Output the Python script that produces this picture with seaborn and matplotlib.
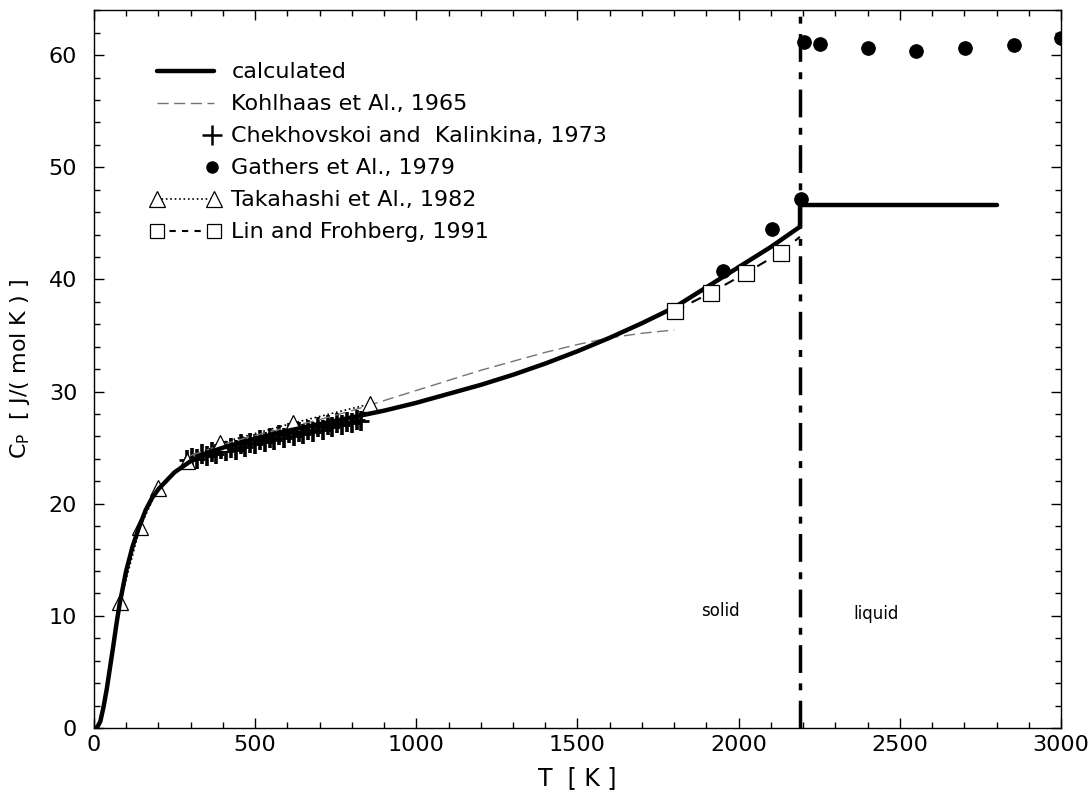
import numpy as np
import pandas as pd
import matplotlib
matplotlib.use("Agg")
import matplotlib.pyplot as plt
import seaborn as sns
from matplotlib.lines import Line2D
from matplotlib.legend_handler import HandlerLine2D
from matplotlib.ticker import MultipleLocator

# ---------------- data ----------------
calc_T = [0, 10, 20, 30, 40, 50, 60, 70, 80, 100, 120, 140, 160, 180, 200, 250, 300, 350, 400,
          500, 600, 700, 800, 900, 1000, 1100, 1200, 1300, 1400, 1500, 1600, 1700, 1800,
          1900, 2000, 2100, 2190]
calc_Cp = [0, 0.05, 0.6, 1.9, 3.5, 5.4, 7.3, 9.3, 11.1, 14.0, 16.2, 17.9, 19.4, 20.5, 21.3, 22.8,
           23.8, 24.5, 25.0, 25.8, 26.5, 27.1, 27.7, 28.3, 29.0, 29.8, 30.6, 31.5, 32.5, 33.6,
           34.8, 36.1, 37.5, 39.3, 41.1, 42.9, 44.7]
liq_T = [2190, 2190, 2800]
liq_Cp = [44.7, 46.6, 46.6]

kohl_T = [300, 400, 500, 600, 700, 800, 900, 1000, 1100, 1200, 1300, 1400, 1500, 1600, 1700, 1800]
kohl_Cp = [24.3, 25.3, 26.1, 26.8, 27.5, 28.3, 29.2, 30.1, 31.0, 31.9, 32.7, 33.5, 34.2, 34.8, 35.2, 35.5]

chek_T = [290, 305, 320, 335, 350, 365, 380, 395, 410, 425, 440, 455, 470, 485, 500, 515, 530,
          545, 560, 575, 590, 605, 620, 635, 650, 665, 680, 695, 710, 725, 740, 755, 770, 785,
          800, 815, 830]
chek_Cp = [23.9, 24.1, 24.0, 24.4, 24.3, 24.6, 24.4, 24.9, 24.7, 25.0, 24.8, 25.3, 25.1, 25.4,
           25.3, 25.7, 25.5, 25.9, 25.7, 26.1, 25.9, 26.3, 26.0, 26.4, 26.2, 26.6, 26.4, 26.8,
           26.6, 27.0, 26.8, 27.2, 27.0, 27.3, 27.2, 27.5, 27.4]

gath_T = [1953, 2102, 2193, 2202, 2252, 2400, 2550, 2702, 2854, 3000]
gath_Cp = [40.8, 44.5, 47.2, 61.2, 61.0, 60.6, 60.4, 60.6, 60.9, 61.5]

taka_T = [81, 143, 199, 289, 391, 618, 857]
taka_Cp = [11.2, 17.9, 21.4, 23.8, 25.4, 27.2, 28.9]

lin_T = [1802, 1913, 2024, 2130]
lin_Cp = [37.2, 38.8, 40.6, 42.4]
lin_ext_T = [2130, 2190]
lin_ext_Cp = [42.4, 43.8]

T_melt = 2190

labels = ["calculated", "Kohlhaas et Al., 1965", "Chekhovskoi and  Kalinkina, 1973",
          "Gathers et Al., 1979", "Takahashi et Al., 1982", "Lin and Frohberg, 1991"]

# ---------------- plot ----------------
sns.set_theme(style="ticks")
plt.rcParams['font.family'] = ['DejaVu Sans']
plt.rcParams['mathtext.fontset'] = 'dejavusans'
for k in ['text.color', 'axes.labelcolor', 'xtick.color', 'ytick.color', 'axes.edgecolor']:
    plt.rcParams[k] = 'black'

fig = plt.figure(figsize=(10.92, 7.96), dpi=100)
ax = fig.add_axes([0.086, 0.0854, 0.8856, 0.9016])

sns.lineplot(x=kohl_T, y=kohl_Cp, ax=ax, color='0.45', lw=1.0, sort=False, estimator=None,
             linestyle=(0, (8, 4)))
sns.lineplot(x=taka_T, y=taka_Cp, ax=ax, color='black', lw=1.2, sort=False, estimator=None,
             linestyle=':', marker='^', markersize=11, markerfacecolor='white',
             markeredgecolor='black', markeredgewidth=0.9)
sns.scatterplot(x=chek_T, y=chek_Cp, ax=ax, marker='|', s=220, color='black', linewidth=2.6)
sns.scatterplot(x=chek_T, y=chek_Cp, ax=ax, marker='_', s=120, color='black', linewidth=2.0)
sns.lineplot(x=calc_T, y=calc_Cp, ax=ax, color='black', lw=3.2, sort=False, estimator=None)
sns.lineplot(x=liq_T, y=liq_Cp, ax=ax, color='black', lw=3.2, sort=False, estimator=None)
sns.lineplot(x=lin_ext_T, y=lin_ext_Cp, ax=ax, color='black', lw=1.5, sort=False, estimator=None,
             linestyle=(0, (5, 4)))
sns.lineplot(x=lin_T, y=lin_Cp, ax=ax, color='black', lw=1.5, sort=False, estimator=None,
             linestyle=(0, (5, 4)), marker='s', markersize=12, markerfacecolor='white',
             markeredgecolor='black', markeredgewidth=0.9)
sns.scatterplot(x=gath_T, y=gath_Cp, ax=ax, marker='o', s=95, color='black', edgecolor='black',
                zorder=5)

ax.axvline(T_melt, color='black', lw=2.5, linestyle=(0, (8, 3, 2, 3)), zorder=4)

ax.text(1944, 10.4, "solid", ha='center', va='center', fontsize=12)
ax.text(2425, 10.2, "liquid", ha='center', va='center', fontsize=12)

ax.set_xlim(0, 3000)
ax.set_ylim(0, 64)
ax.xaxis.set_major_locator(MultipleLocator(500))
ax.xaxis.set_minor_locator(MultipleLocator(100))
ax.yaxis.set_major_locator(MultipleLocator(10))
ax.yaxis.set_minor_locator(MultipleLocator(2))
ax.tick_params(which='both', direction='in', top=True, right=True, labelsize=16, width=1.0)
ax.tick_params(which='major', length=7)
ax.tick_params(which='minor', length=4)
ax.tick_params(axis='x', pad=5)
ax.tick_params(axis='y', pad=12)
for s in ax.spines.values():
    s.set_linewidth(1.0)
    s.set_color('black')

ax.set_xlabel("T  [ K ]", fontsize=17, labelpad=8)
ax.set_ylabel(r"C$_\mathrm{P}$  [ J/( mol K ) ]", fontsize=16, labelpad=12)


class HandlerRight(HandlerLine2D):
    def create_artists(self, legend, orig_handle, xdescent, ydescent, width, height,
                       fontsize, trans):
        x = -xdescent + width - 0.35 * fontsize
        y = (height - ydescent) / 2
        line = Line2D([x], [y])
        self.update_prop(line, orig_handle, legend)
        line.set_linestyle('None')
        line.set_transform(trans)
        return [line]


h_calc = Line2D([], [], color='black', lw=3.2)
h_kohl = Line2D([], [], color='0.45', lw=1.0, linestyle=(0, (8, 4)))
h_chek = Line2D([], [], color='black', lw=0, marker='+', markersize=15, markeredgewidth=1.8)
h_gath = Line2D([], [], color='black', lw=0, marker='o', markersize=8)
h_taka = Line2D([], [], color='black', lw=1.2, linestyle=':', marker='^', markersize=12,
                markerfacecolor='white', markeredgewidth=0.9)
h_lin = Line2D([], [], color='black', lw=1.5, linestyle=(0, (3, 3)), marker='s', markersize=10,
               markerfacecolor='white', markeredgewidth=0.9)
handles = [h_calc, h_kohl, h_chek, h_gath, h_taka, h_lin]
leg = ax.legend(handles, labels, loc='upper left', bbox_to_anchor=(0.049, 0.94), frameon=False,
                fontsize=16, handlelength=3.15, handletextpad=0.5, labelspacing=0.54,
                numpoints=2, borderaxespad=0,
                handler_map={h_chek: HandlerRight(), h_gath: HandlerRight()})

fig.savefig("out.png", dpi=100)
